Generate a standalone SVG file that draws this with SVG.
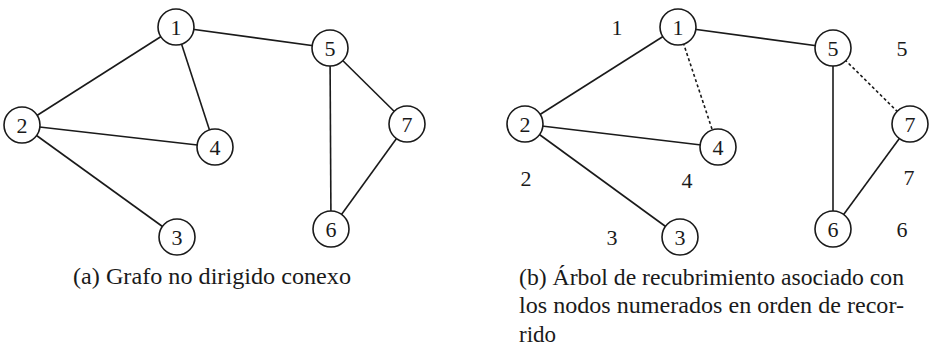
<svg xmlns="http://www.w3.org/2000/svg" width="934" height="348" viewBox="0 0 934 348">
<style>
.e{stroke:#1a1a1a;stroke-width:1.6;fill:none}
.d{stroke:#1a1a1a;stroke-width:1.6;fill:none;stroke-dasharray:3,2.5}
.n circle{fill:#fff;stroke:#1a1a1a;stroke-width:1.6}
.n text,.l{font-size:22px;text-anchor:middle}
.c{font-size:23px}
</style>
<rect width="934" height="348" fill="#fff"/>
<g id="connectors">
<line class="e" x1="176" y1="27" x2="22" y2="125"/>
<line class="e" x1="176" y1="27" x2="215" y2="147"/>
<line class="e" x1="176" y1="27" x2="330" y2="48"/>
<line class="e" x1="22" y1="125" x2="215" y2="147"/>
<line class="e" x1="22" y1="125" x2="177" y2="237"/>
<line class="e" x1="330" y1="48" x2="331" y2="229"/>
<line class="e" x1="330" y1="48" x2="407" y2="124"/>
<line class="e" x1="407" y1="124" x2="331" y2="229"/>
<line class="e" x1="678" y1="27" x2="525" y2="124"/>
<line class="d" x1="678" y1="27" x2="718" y2="147"/>
<line class="e" x1="678" y1="27" x2="833" y2="48"/>
<line class="e" x1="525" y1="124" x2="718" y2="147"/>
<line class="e" x1="525" y1="124" x2="680" y2="237"/>
<line class="e" x1="833" y1="48" x2="833" y2="229"/>
<line class="d" x1="833" y1="48" x2="910" y2="124"/>
<line class="e" x1="910" y1="124" x2="833" y2="229"/>
</g>
<g font-family="'Liberation Serif', 'DejaVu Serif', serif" fill="#1a1a1a">
<g id="a1" class="n"><circle cx="176" cy="27" r="18"/><text x="176" y="35">1</text></g>
<g id="a2" class="n"><circle cx="22" cy="125" r="18"/><text x="22" y="133">2</text></g>
<g id="a3" class="n"><circle cx="177" cy="237" r="18"/><text x="177" y="245">3</text></g>
<g id="a4" class="n"><circle cx="215" cy="147" r="18"/><text x="215" y="155">4</text></g>
<g id="a5" class="n"><circle cx="330" cy="48" r="18"/><text x="330" y="56">5</text></g>
<g id="a6" class="n"><circle cx="331" cy="229" r="18"/><text x="331" y="237">6</text></g>
<g id="a7" class="n"><circle cx="407" cy="124" r="18"/><text x="407" y="132">7</text></g>
<g id="b1" class="n"><circle cx="678" cy="27" r="18"/><text x="678" y="35">1</text></g>
<g id="b2" class="n"><circle cx="525" cy="124" r="18"/><text x="525" y="132">2</text></g>
<g id="b3" class="n"><circle cx="680" cy="237" r="18"/><text x="680" y="245">3</text></g>
<g id="b4" class="n"><circle cx="718" cy="147" r="18"/><text x="718" y="155">4</text></g>
<g id="b5" class="n"><circle cx="833" cy="48" r="18"/><text x="833" y="56">5</text></g>
<g id="b6" class="n"><circle cx="833" cy="229" r="18"/><text x="833" y="237">6</text></g>
<g id="b7" class="n"><circle cx="910" cy="124" r="18"/><text x="910" y="132">7</text></g>
<g id="order">
<text class="l" x="617" y="35">1</text>
<text class="l" x="526" y="186">2</text>
<text class="l" x="612" y="245">3</text>
<text class="l" x="687" y="188">4</text>
<text class="l" x="902" y="56">5</text>
<text class="l" x="902" y="237">6</text>
<text class="l" x="909" y="185">7</text>
</g>
<g id="captions">
<text class="c" x="73" y="284" textLength="278" lengthAdjust="spacingAndGlyphs">(a) Grafo no dirigido conexo</text>
<text class="c" x="519" y="285" textLength="385" lengthAdjust="spacingAndGlyphs">(b) Árbol de recubrimiento asociado con</text>
<text class="c" x="519" y="313" textLength="385" lengthAdjust="spacingAndGlyphs">los nodos numerados en orden de recor-</text>
<text class="c" x="519" y="342">rido</text>
</g>
</g>
</svg>
